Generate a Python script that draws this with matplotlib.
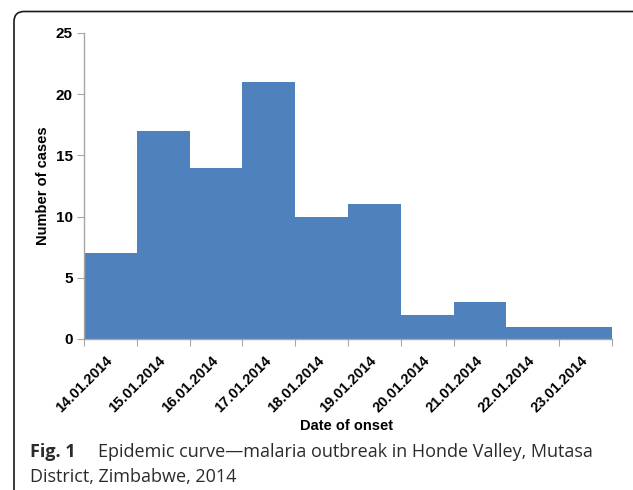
import matplotlib.pyplot as plt
from matplotlib.path import Path
from matplotlib.patches import PathPatch
from matplotlib.transforms import Affine2D
import numpy as np

dates = ["14.01.2014", "15.01.2014", "16.01.2014", "17.01.2014", "18.01.2014",
         "19.01.2014", "20.01.2014", "21.01.2014", "22.01.2014", "23.01.2014"]
cases = [7, 17, 14, 21, 10, 11, 2, 3, 1, 1]

bar_color = "#4f81bd"
axis_grey = "#a6a6a6"
W, H = 633, 490

fig = plt.figure(figsize=(W / 100, H / 100), dpi=100)
ax = fig.add_axes([84 / W, 1 - 339 / H, 528 / W, 306 / H])

x = np.arange(len(cases))
ax.bar(x, cases, width=1.0, align="edge", color=bar_color, linewidth=0)

ax.set_xlim(0, len(cases))
ax.set_ylim(0, 25)
ax.set_yticks(range(0, 26, 5))

# ticks on the category edges, labels in the middle of each bar
ax.set_xticks(np.arange(len(cases) + 1))
ax.set_xticklabels([])
ax.set_xticks(x + 0.5, minor=True)
ax.set_xticklabels(dates, minor=True, rotation=45, ha="right", va="center",
                   rotation_mode="anchor", fontsize=10.5, fontweight="bold",
                   family="Liberation Sans")
ax.tick_params(axis="x", which="minor", length=0, pad=14)
ax.tick_params(axis="x", which="major", length=5, color=axis_grey, direction="out")
ax.tick_params(axis="y", length=5, color=axis_grey, direction="out", pad=3)
for lab in ax.get_yticklabels():
    lab.set_fontweight("bold")
    lab.set_fontsize(11)
    lab.set_family("Liberation Sans")

for side in ["top", "right"]:
    ax.spines[side].set_visible(False)
for side in ["left", "bottom"]:
    ax.spines[side].set_color(axis_grey)
    ax.spines[side].set_linewidth(1.0)

ax.set_ylabel("Number of cases", fontsize=10.5, fontweight="bold",
              family="Liberation Sans")
ax.yaxis.set_label_coords((50 - 84) / 528, 0.5)
fig.text(347 / W, 1 - 426 / H, "Date of onset", ha="center", va="center",
         fontsize=10.5, fontweight="bold", family="Liberation Sans")

# caption
cap_color = "#2b2b2b"
fig.text(30 / W, 1 - 452 / H, "Fig. 1", ha="left", va="center",
         fontsize=13, fontweight="bold", family="Open Sans", color=cap_color)
fig.text(98 / W, 1 - 452 / H,
         "Epidemic curve\u2014malaria outbreak in Honde Valley, Mutasa",
         ha="left", va="center", fontsize=13, family="Open Sans", color=cap_color)
fig.text(30 / W, 1 - 477 / H, "District, Zimbabwe, 2014", ha="left",
         va="center", fontsize=13, family="Open Sans", color=cap_color)

# rounded frame, only top and left edges visible (pixel coords, y down)
r = 10
left, top = 14, 11.5
verts = [(left, H + 5), (left, top + r), (left, top), (left + r, top), (W + 5, top)]
codes = [Path.MOVETO, Path.LINETO, Path.CURVE3, Path.CURVE3, Path.LINETO]
to_disp = Affine2D().scale(1, -1).translate(0, H)
frame = PathPatch(Path(verts, codes), transform=to_disp, fill=False,
                  edgecolor="#1a1a1a", linewidth=1.2, clip_on=False)
fig.patches.append(frame)

fig.savefig("out.png", dpi=100)
